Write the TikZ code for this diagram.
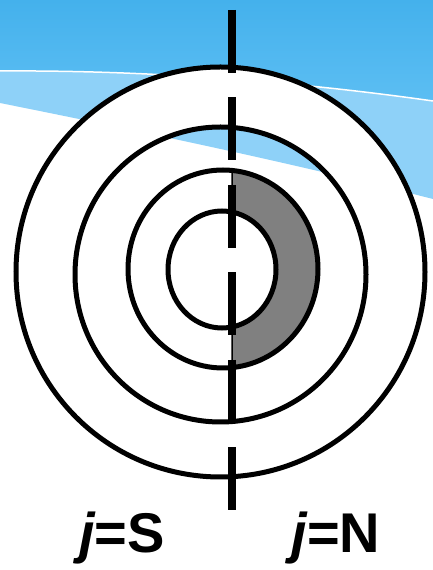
\documentclass[tikz,border=0pt]{standalone}
\usepackage{fontspec}
\setmainfont{Liberation Sans}
\usepackage{tikz}
\usetikzlibrary{calc}
\definecolor{cskytop} {RGB}{68,177,236}
\definecolor{cskylow} {RGB}{92,190,243}
\definecolor{cwisp}   {RGB}{142,209,248}
\definecolor{cshade}  {RGB}{128,128,128}
\tikzset{
  ring/.style={draw=black, line width=5pt},
  wedge/.style={fill=cshade, draw=black, line width=1.5pt},
  cutline/.style={draw=black, line width=8pt, line cap=butt,
                  dash pattern=on 63pt off 24.5pt},
  lab/.style={font=\fontsize{56}{60}\selectfont\bfseries,
              inner sep=0pt, anchor=base},
}

\begin{document}
\begin{tikzpicture}[x=1pt, y=1pt]
  \useasboundingbox (0,0) rectangle (433,570);
  \fill[white] (0,0) rectangle (433,570);

  % ── Sky backdrop ───────────────────────────────────────────────────────────
  \coordinate (wl) at (0,499);
  \coordinate (wr) at (433,469);
  \fill[cwisp] (0,467) -- (wl) .. controls (150,500) and (300,488) .. (wr)
      -- (433,371) .. controls (300,405) and (150,437) .. cycle;
  \shade[top color=cskytop, bottom color=cskylow]
      (0,570) -- (433,570) -- (wr) .. controls (300,488) and (150,500) .. (wl)
      -- cycle;
  \draw[white, line width=1.5pt] (wl) .. controls (150,500) and (300,488) .. (wr);

  % ── Ring centres ───────────────────────────────────────────────────────────
  \coordinate (c1) at (220.5,298);
  \coordinate (c2) at (220.5,295.5);
  \coordinate (c3) at (223,301);
  \coordinate (c4) at (222,300.5);
  \pgfmathsetmacro{\ta}{acos(9/95)}
  \pgfmathsetmacro{\tb}{acos(10/54)}

  % ── White band between the two outer rings ─────────────────────────────────
  \fill[white, even odd rule]
      (c1) ellipse [x radius=204.5pt, y radius=205pt]
      (c2) ellipse [x radius=145.5pt, y radius=147.5pt];

  % ── Shaded half ring ───────────────────────────────────────────────────────
  \path[wedge]
      ([shift={(c3)}]\ta:95pt and 99pt)
      arc [start angle=\ta, end angle=-\ta, x radius=95pt, y radius=99pt]
      -- ([shift={(c4)}]-\tb:54pt and 58.5pt)
      arc [start angle=-\tb, end angle=\tb, x radius=54pt, y radius=58.5pt]
      -- cycle;

  % ── Rings ──────────────────────────────────────────────────────────────────
  \draw[ring] (c1) ellipse [x radius=204.5pt, y radius=205pt];
  \draw[ring] (c2) ellipse [x radius=145.5pt, y radius=147.5pt];
  \draw[ring] (c3) ellipse [x radius=95pt, y radius=99pt];
  \draw[ring] (c4) ellipse [x radius=54pt, y radius=58.5pt];

  % ── Dividing line ──────────────────────────────────────────────────────────
  \coordinate (top) at (232,560);
  \coordinate (bot) at (232,57);
  \draw[cutline] (top) -- (bot);

  % ── Labels ─────────────────────────────────────────────────────────────────
  \node[lab] (south) at (122,17) {{\itshape j}=S};
  \node[lab] (north) at (336,17) {{\itshape j}=N};
\end{tikzpicture}
\end{document}
